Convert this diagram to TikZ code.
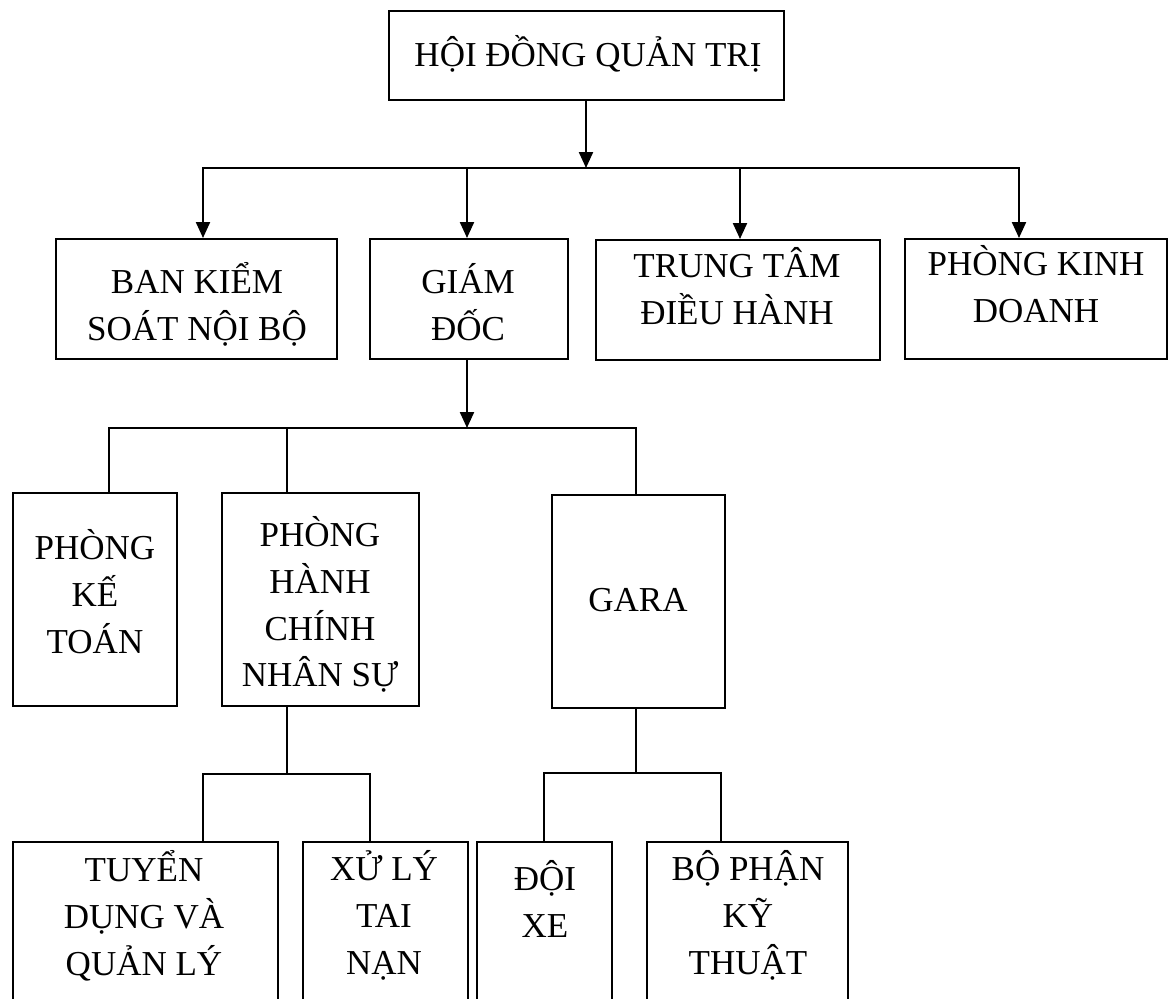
\documentclass[tikz,border=0pt]{standalone}
\usepackage{fontspec}
\setmainfont{Liberation Serif}
\usetikzlibrary{arrows.meta}

% box given by its left, top, right and bottom edges (in pixel units)
\newcommand{\orgbox}[5]{%
  \node[orgframe, minimum width={(#4-#2)*0.5pt}, minimum height={(#5-#3)*0.5pt}]
    (#1) at ({(#2+#4)/2},{(#3+#5)/2}) {};}

\tikzset{
  orgframe/.style={draw=black, line width=1pt, inner sep=0pt, fill=white},
  lbl/.style={align=center, inner sep=0pt, anchor=north,
    font=\fontsize{17.5}{23.4}\selectfont,
    execute at begin node=\strut, execute at end node=\strut},
  wire/.style={line width=1.1pt, line cap=rect},
  thinwire/.style={line width=0.8pt},
  arr/.style={line width=1.1pt, -{Triangle[length=8pt,width=7pt]}},
}

\begin{document}
\begin{tikzpicture}[x=0.5pt, y=-0.5pt]
\clip (0,0) rectangle (1169,998);
\fill[white] (0,0) rectangle (1169,998);

% ---- boxes ----
\orgbox{hdqt}{389}{11}{784}{100}
\orgbox{bks}{56}{239}{337}{359}
\orgbox{gd}{370}{239}{568}{359}
\orgbox{ttdh}{596}{240}{880}{360}
\orgbox{pkd}{905}{239}{1167}{359}
\orgbox{pkt}{13}{493}{177}{706}
\orgbox{phcns}{222}{493}{419}{706}
\orgbox{gara}{552}{495}{725}{708}
\orgbox{tdql}{13}{842}{278}{1020}
\orgbox{xltn}{303}{842}{468}{1020}
\orgbox{doixe}{477}{842}{612}{1020}
\orgbox{bpkt}{647}{842}{848}{1020}

% ---- labels (y = first baseline - 33) ----
\node[lbl] (t-hdqt)  at (588,33)  {HỘI ĐỒNG QUẢN TRỊ};
\node[lbl] (t-bks)   at (197,262) {BAN KIỂM\\SOÁT NỘI BỘ};
\node[lbl] (t-gd)    at (468,263) {GIÁM\\ĐỐC};
\node[lbl] (t-ttdh)  at (737,247) {TRUNG TÂM\\ĐIỀU HÀNH};
\node[lbl] (t-pkd)   at (1036,245) {PHÒNG KINH\\DOANH};
\node[lbl] (t-pkt)   at (95,529)  {PHÒNG\\KẾ\\TOÁN};
\node[lbl] (t-phcns) at (320,516) {PHÒNG\\HÀNH\\CHÍNH\\NHÂN SỰ};
\node[lbl] (t-gara)  at (638,578) {GARA};
\node[lbl] (t-tdql)  at (144,850) {TUYỂN\\DỤNG VÀ\\QUẢN LÝ};
\node[lbl] (t-xltn)  at (384,850) {XỬ LÝ\\TAI\\NẠN};
\node[lbl] (t-doixe) at (545,860) {ĐỘI\\XE};
\node[lbl] (t-bpkt)  at (748,850) {BỘ PHẬN\\KỸ\\THUẬT};

% ---- junction points ----
\coordinate (j1)  at (586,168);
\coordinate (b1a) at (203,168);
\coordinate (b1b) at (467,168);
\coordinate (b1c) at (740,168);
\coordinate (b1d) at (1019,168);
\coordinate (j2)  at (467,428);
\coordinate (b2a) at (109,428);
\coordinate (b2b) at (287,428);
\coordinate (b2c) at (636,428);
\coordinate (j3)  at (287,774);
\coordinate (b3a) at (203,774);
\coordinate (b3b) at (370,774);
\coordinate (j4)  at (636,773);
\coordinate (b4a) at (544,773);
\coordinate (b4b) at (721,773);

% ---- top level ----
\draw[arr] (hdqt.south -| j1) -- (j1);
\draw[wire] (b1a) -- (b1d);
\draw[arr] (b1a) -- (b1a |- bks.north);
\draw[arr] (b1b) -- (b1b |- gd.north);
\draw[arr] (b1c) -- (b1c |- ttdh.north);
\draw[arr] (b1d) -- (b1d |- pkd.north);

% ---- under the director ----
\draw[arr] (gd.south -| j2) -- (j2);
\draw[wire] (b2a |- pkt.north) -- (b2a) -- (b2c) -- (b2c |- gara.north);
\draw[thinwire] (b2b) -- (b2b |- phcns.north);

% ---- under administration & personnel ----
\draw[thinwire] (phcns.south -| j3) -- (j3);
\draw[wire, line width=0.9pt] (b3a |- tdql.north) -- (b3a) -- (b3b) -- (b3b |- xltn.north);

% ---- under the garage ----
\draw[wire] (gara.south -| j4) -- (j4);
\draw[wire] (b4a |- doixe.north) -- (b4a) -- (b4b) -- (b4b |- bpkt.north);
\end{tikzpicture}
\end{document}
